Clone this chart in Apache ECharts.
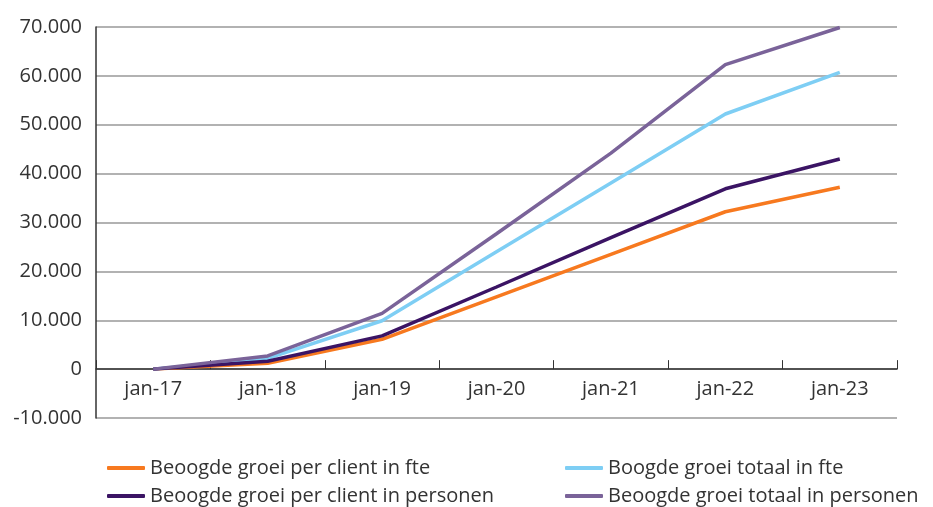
<!DOCTYPE html>
<html>
<head>
<meta charset="utf-8">
<script src="https://cdn.jsdelivr.net/npm/echarts@6/dist/echarts.min.js"></script>
<style>
  html, body { margin: 0; padding: 0; background: #fff; }
  #chart { width: 933px; height: 507px; }
</style>
</head>
<body>
<div id="chart"></div>
<script>
var categories = ["jan-17", "jan-18", "jan-19", "jan-20", "jan-21", "jan-22", "jan-23"];
var perClientFte = [0, 1200, 6100, 14800, 23500, 32200, 37200];
var totaalFte = [0, 2200, 9900, 24000, 38100, 52200, 60700];
var perClientPersonen = [0, 1600, 6800, 16800, 26900, 36900, 43000];
var totaalPersonen = [0, 2700, 11400, 27700, 44200, 62300, 69900];
var names = [
  "Beoogde groei per client in fte",
  "Boogde groei totaal in fte",
  "Beoogde groei per client in personen",
  "Beoogde groei totaal in personen"
];
var colors = ["#f7791f", "#7ecef4", "#3b1464", "#7a6399"];

var font = "Open Sans";
var textColor = "#333";
var gridTop = 27, gridBottom = 89, chartH = 507;
// x axis sits on the 0 line: 1 of 8 intervals above the bottom
var zeroOffset = (chartH - gridTop - gridBottom) / 8;

function fmt(v) {
  var s = Math.abs(v).toString().replace(/\B(?=(\d{3})+(?!\d))/g, ".");
  return (v < 0 ? "-" : "") + s;
}

function line(name, data, color) {
  return {
    name: name,
    type: "line",
    data: data,
    symbol: "none",
    color: color,
    lineStyle: { width: 3.5, color: color }
  };
}

function legendItem(name, left, top) {
  return {
    left: left,
    top: top,
    data: [name],
    icon: "roundRect",
    itemWidth: 38,
    itemHeight: 4,
    itemGap: 6,
    textStyle: { fontFamily: font, fontSize: 20, color: textColor, lineHeight: 22 }
  };
}

var chart = echarts.init(document.getElementById("chart"));
chart.setOption({
  animation: false,
  color: colors,
  grid: { left: 96, right: 36, top: gridTop, bottom: gridBottom, containLabel: false },
  legend: [
    legendItem(names[0], 102, 452),
    legendItem(names[2], 102, 480),
    legendItem(names[1], 560, 452),
    legendItem(names[3], 560, 480)
  ],
  xAxis: {
    type: "category",
    data: categories,
    boundaryGap: true,
    offset: -zeroOffset,
    axisLine: { onZero: false, lineStyle: { color: "#333", width: 1.5 } },
    axisTick: { show: true, inside: true, length: 9, lineStyle: { color: "#333" } },
    axisLabel: { fontFamily: font, fontSize: 20, color: textColor, margin: 10 }
  },
  yAxis: {
    type: "value",
    min: -10000,
    max: 70000,
    interval: 10000,
    axisLine: { show: true, lineStyle: { color: "#333", width: 1.5 } },
    axisTick: { show: false },
    axisLabel: {
      fontFamily: font, fontSize: 20, color: textColor, margin: 14,
      formatter: fmt
    },
    splitLine: { lineStyle: { color: "#999", width: 1.5 } }
  },
  series: [
    line(names[0], perClientFte, colors[0]),
    line(names[1], totaalFte, colors[1]),
    line(names[2], perClientPersonen, colors[2]),
    line(names[3], totaalPersonen, colors[3])
  ]
});
</script>
</body>
</html>
